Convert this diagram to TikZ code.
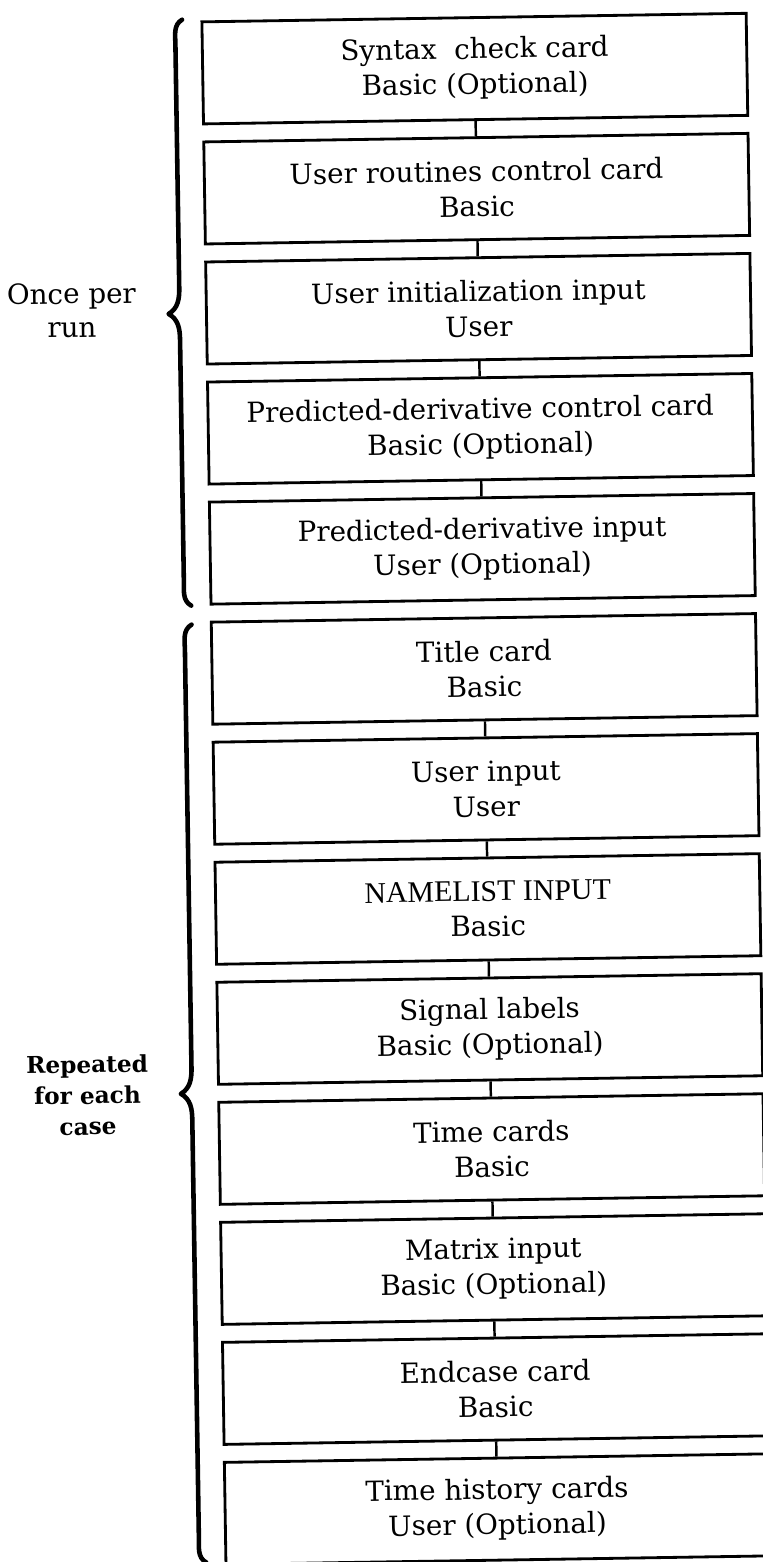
\documentclass[tikz,border=0pt]{standalone}
\usepackage{fontspec}
\setmainfont{DejaVu Serif}
\newfontfamily\capsfont{Liberation Serif}
\usetikzlibrary{positioning}

\tikzset{
	card/.style={draw, line width=0.8pt, minimum width=5.44cm, minimum height=1.02cm, inner sep=2pt, align=center, font=\fontsize{7.9}{10}\selectfont},
	link/.style={line width=0.7pt},
	curly/.style={line width=1.3pt, line cap=round, line join=round},
	side/.style={align=center, font=\fontsize{7.9}{9.5}\selectfont},
	sidebold/.style={align=center, font=\fontsize{6.6}{8.8}\selectfont\bfseries}
}

\begin{document}
\begin{tikzpicture}[x=0.01cm, y=-0.01cm]
	\useasboundingbox (0,0) rectangle (763,1562);
	\begin{scope}[rotate around={0.9:(486,780)}, transform shape]
	% cards read once per run
	\node[card] (syntax) at (486,68.5) {Syntax\ \ check card\\Basic (Optional)};
	\node[card, below=0.152cm of syntax] (routines) {User routines control card\\Basic};
	\node[card, below=0.152cm of routines] (init) {User initialization input\\User};
	\node[card, below=0.152cm of init] (pdcontrol) {Predicted-derivative control card\\Basic (Optional)};
	\node[card, below=0.152cm of pdcontrol] (pdinput) {Predicted-derivative input\\User (Optional)};
	% cards repeated for each case
	\node[card, below=0.152cm of pdinput] (title) {Title card\\Basic};
	\node[card, below=0.152cm of title] (userin) {User input\\User};
	\node[card, below=0.152cm of userin] (namelist) {{\capsfont\fontsize{8.5}{10}\selectfont NAMELIST INPUT}\\Basic};
	\node[card, below=0.152cm of namelist] (signal) {Signal labels\\Basic (Optional)};
	\node[card, below=0.152cm of signal] (time) {Time cards\\Basic};
	\node[card, below=0.152cm of time] (matrix) {Matrix input\\Basic (Optional)};
	\node[card, below=0.152cm of matrix] (endcase) {Endcase card\\Basic};
	\node[card, below=0.152cm of endcase] (history) {Time history cards\\User (Optional)};

	\draw[link] (syntax) -- (routines);
	\draw[link] (routines) -- (init);
	\draw[link] (init) -- (pdcontrol);
	\draw[link] (pdcontrol) -- (pdinput);
	\draw[link] (title) -- (userin);
	\draw[link] (userin) -- (namelist);
	\draw[link] (namelist) -- (signal);
	\draw[link] (signal) -- (time);
	\draw[link] (time) -- (matrix);
	\draw[link] (matrix) -- (endcase);
	\draw[link] (endcase) -- (history);

	% braces
	\coordinate (runtip) at (176,309);
	\coordinate (casetip) at (176,1089);
	\draw[curly] (194,15) to[out=210,in=90] (187,40) -- (187,283) to[out=-90,in=30] (runtip) to[out=-30,in=90] (187,335) -- (187,576) to[out=-90,in=150] (194,601);
	\draw[curly] (194,620) to[out=210,in=90] (187,646) -- (187,1063) to[out=-90,in=30] (casetip) to[out=-30,in=90] (187,1115) -- (187,1533) to[out=-90,in=150] (194,1558);
	\node[side, left=0.2cm of runtip, yshift=0.05cm] (once) {Once per\\run};
	\node[sidebold, left=0.2cm of casetip] (repeat) {Repeated\\for each\\case};
	\end{scope}
\end{tikzpicture}
\end{document}
